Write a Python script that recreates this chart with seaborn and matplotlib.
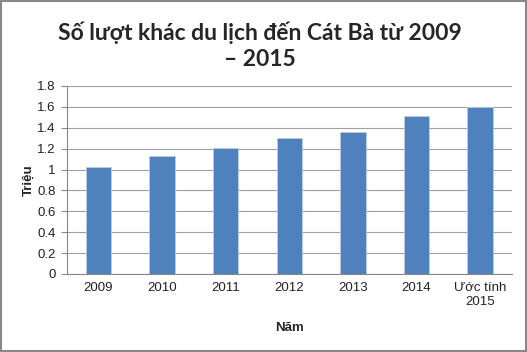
import matplotlib
matplotlib.use('Agg')
import matplotlib.pyplot as plt
import seaborn as sns
import pandas as pd

# data
years = ['2009', '2010', '2011', '2012', '2013', '2014', 'Ước tính\n2015']
visitors = [1.025, 1.133, 1.207, 1.30, 1.357, 1.51, 1.60]
yticks = [0, 0.2, 0.4, 0.6, 0.8, 1, 1.2, 1.4, 1.6, 1.8]
ytick_labels = ['0', '0.2', '0.4', '0.6', '0.8', '1', '1.2', '1.4', '1.6', '1.8']

df = pd.DataFrame({'Năm': years, 'Triệu': visitors})

sns.set_style('white')
plt.rcParams['font.family'] = ['Liberation Sans', 'DejaVu Sans']

fig = plt.figure(figsize=(5.27, 3.52), dpi=100)
ax = fig.add_axes([0.1266, 0.2216, 0.8444, 0.5341])

sns.barplot(data=df, x='Năm', y='Triệu', color='#4f81bd', width=0.4,
            saturation=1, ax=ax, edgecolor='#b9cde5', linewidth=0.6)

ax.set_ylim(0, 1.8)
ax.set_yticks(yticks)
ax.set_yticklabels(ytick_labels, fontsize=9.5, color='#222222')
ax.set_xlim(-0.5, len(years) - 0.5)
ax.tick_params(axis='x', labelsize=9.5, length=0, pad=6, colors='#222222')
ax.tick_params(axis='y', length=4, width=0.8, color='#888888', direction='out', left=True, pad=4)
ax.yaxis.grid(True, color='#a0a0a0', linewidth=0.8)
ax.set_axisbelow(True)
for s in ['top', 'right']:
    ax.spines[s].set_visible(False)
for s in ['left', 'bottom']:
    ax.spines[s].set_color('#888888')
    ax.spines[s].set_linewidth(0.8)

ax.set_xlabel('Năm', fontsize=9.5, fontweight='bold', labelpad=10)
ax.set_ylabel('Triệu', fontsize=9.5, fontweight='bold', labelpad=2)

fig.text(0.494, 0.94, 'Số lượt khác du lịch đến Cát Bà từ 2009\n– 2015',
         ha='center', va='top', fontsize=16.5, fontweight='bold',
         family=['Lato', 'DejaVu Sans'], linespacing=1.3)

# grey frame round the chart
fig.patches.append(plt.Rectangle((0.001, 0.002), 0.997, 0.995, transform=fig.transFigure,
                                 fill=False, edgecolor='#888888', linewidth=1.5))

fig.savefig('out.png', dpi=100)
